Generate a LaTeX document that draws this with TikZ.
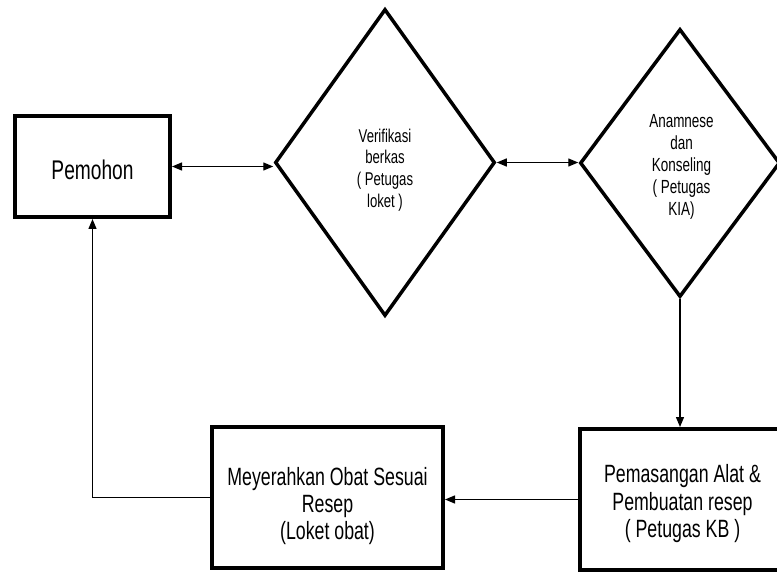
\documentclass[tikz,border=0pt]{standalone}
\usepackage{fontspec}
\setmainfont{Liberation Sans}
\newfontfamily\narrowsans[FakeStretch=0.71]{Liberation Sans}
\usetikzlibrary{shapes.geometric,arrows.meta}
\tikzset{
  boxnode/.style={draw, rectangle, line width=4pt, inner sep=0pt},
  decnode/.style={draw, diamond, line width=3.5pt, inner sep=0pt},
  lbl/.style={inner sep=0pt, align=center},
  conn/.style={line width=1.3pt, -{Triangle[length=10pt,width=8pt]}},
  conn2/.style={line width=1.3pt, {Triangle[length=10pt,width=8pt]}-{Triangle[length=10pt,width=8pt]}},
}
\begin{document}
\begin{tikzpicture}[x=1pt,y=-1pt]
\useasboundingbox (0,0) rectangle (777,572);
\clip (0,0) rectangle (777,572);
\fill[white] (0,0) rectangle (777,572);
% shapes
\node[boxnode, minimum width=155pt, minimum height=101pt] (pem) at (92.5,166.5) {};
\node[decnode, minimum width=220pt, minimum height=307pt] (d1) at (385,162.5) {};
\node[decnode, minimum width=200pt, minimum height=268pt] (d2) at (680,163) {};
\node[boxnode, minimum width=231pt, minimum height=141pt] (obat) at (327.5,497.5) {};
\node[boxnode, minimum width=206pt, minimum height=141pt] (kb) at (683,499.5) {};
% texts
\node[lbl, font=\narrowsans\fontsize{27}{27}\selectfont] (pemT) at (92.5,170.2) {Pemohon};
\node[lbl, font=\narrowsans\fontsize{18.5}{21.7}\selectfont] (d1T) at (385,170) {Verifikasi\\berkas\\( Petugas\\loket )};
\node[lbl, font=\narrowsans\fontsize{19}{22}\selectfont] (d2T) at (681.5,166.5) {Anamnese\\dan\\Konseling\\( Petugas\\KIA)};
\node[lbl, font=\narrowsans\fontsize{25}{27}\selectfont] (obatT) at (327.5,506.5) {Meyerahkan Obat Sesuai\\Resep\\(Loket obat)};
\node[lbl, font=\narrowsans\fontsize{25}{27.5}\selectfont] (kbT) at (682.5,504) {Pemasangan Alat \&\\Pembuatan resep\\( Petugas KB )};
% connectors
\draw[conn2] (pem.east) -- (pem.east -| d1.west);
\draw[conn2] (d1.east) -- (d1.east -| d2.west);
\draw[conn] (d2.south) -- (d2.south |- kb.north);
\draw[conn] (kb.west) -- (kb.west -| obat.east);
\draw[conn] (obat.west) -| (pem.south);
\end{tikzpicture}
\end{document}
